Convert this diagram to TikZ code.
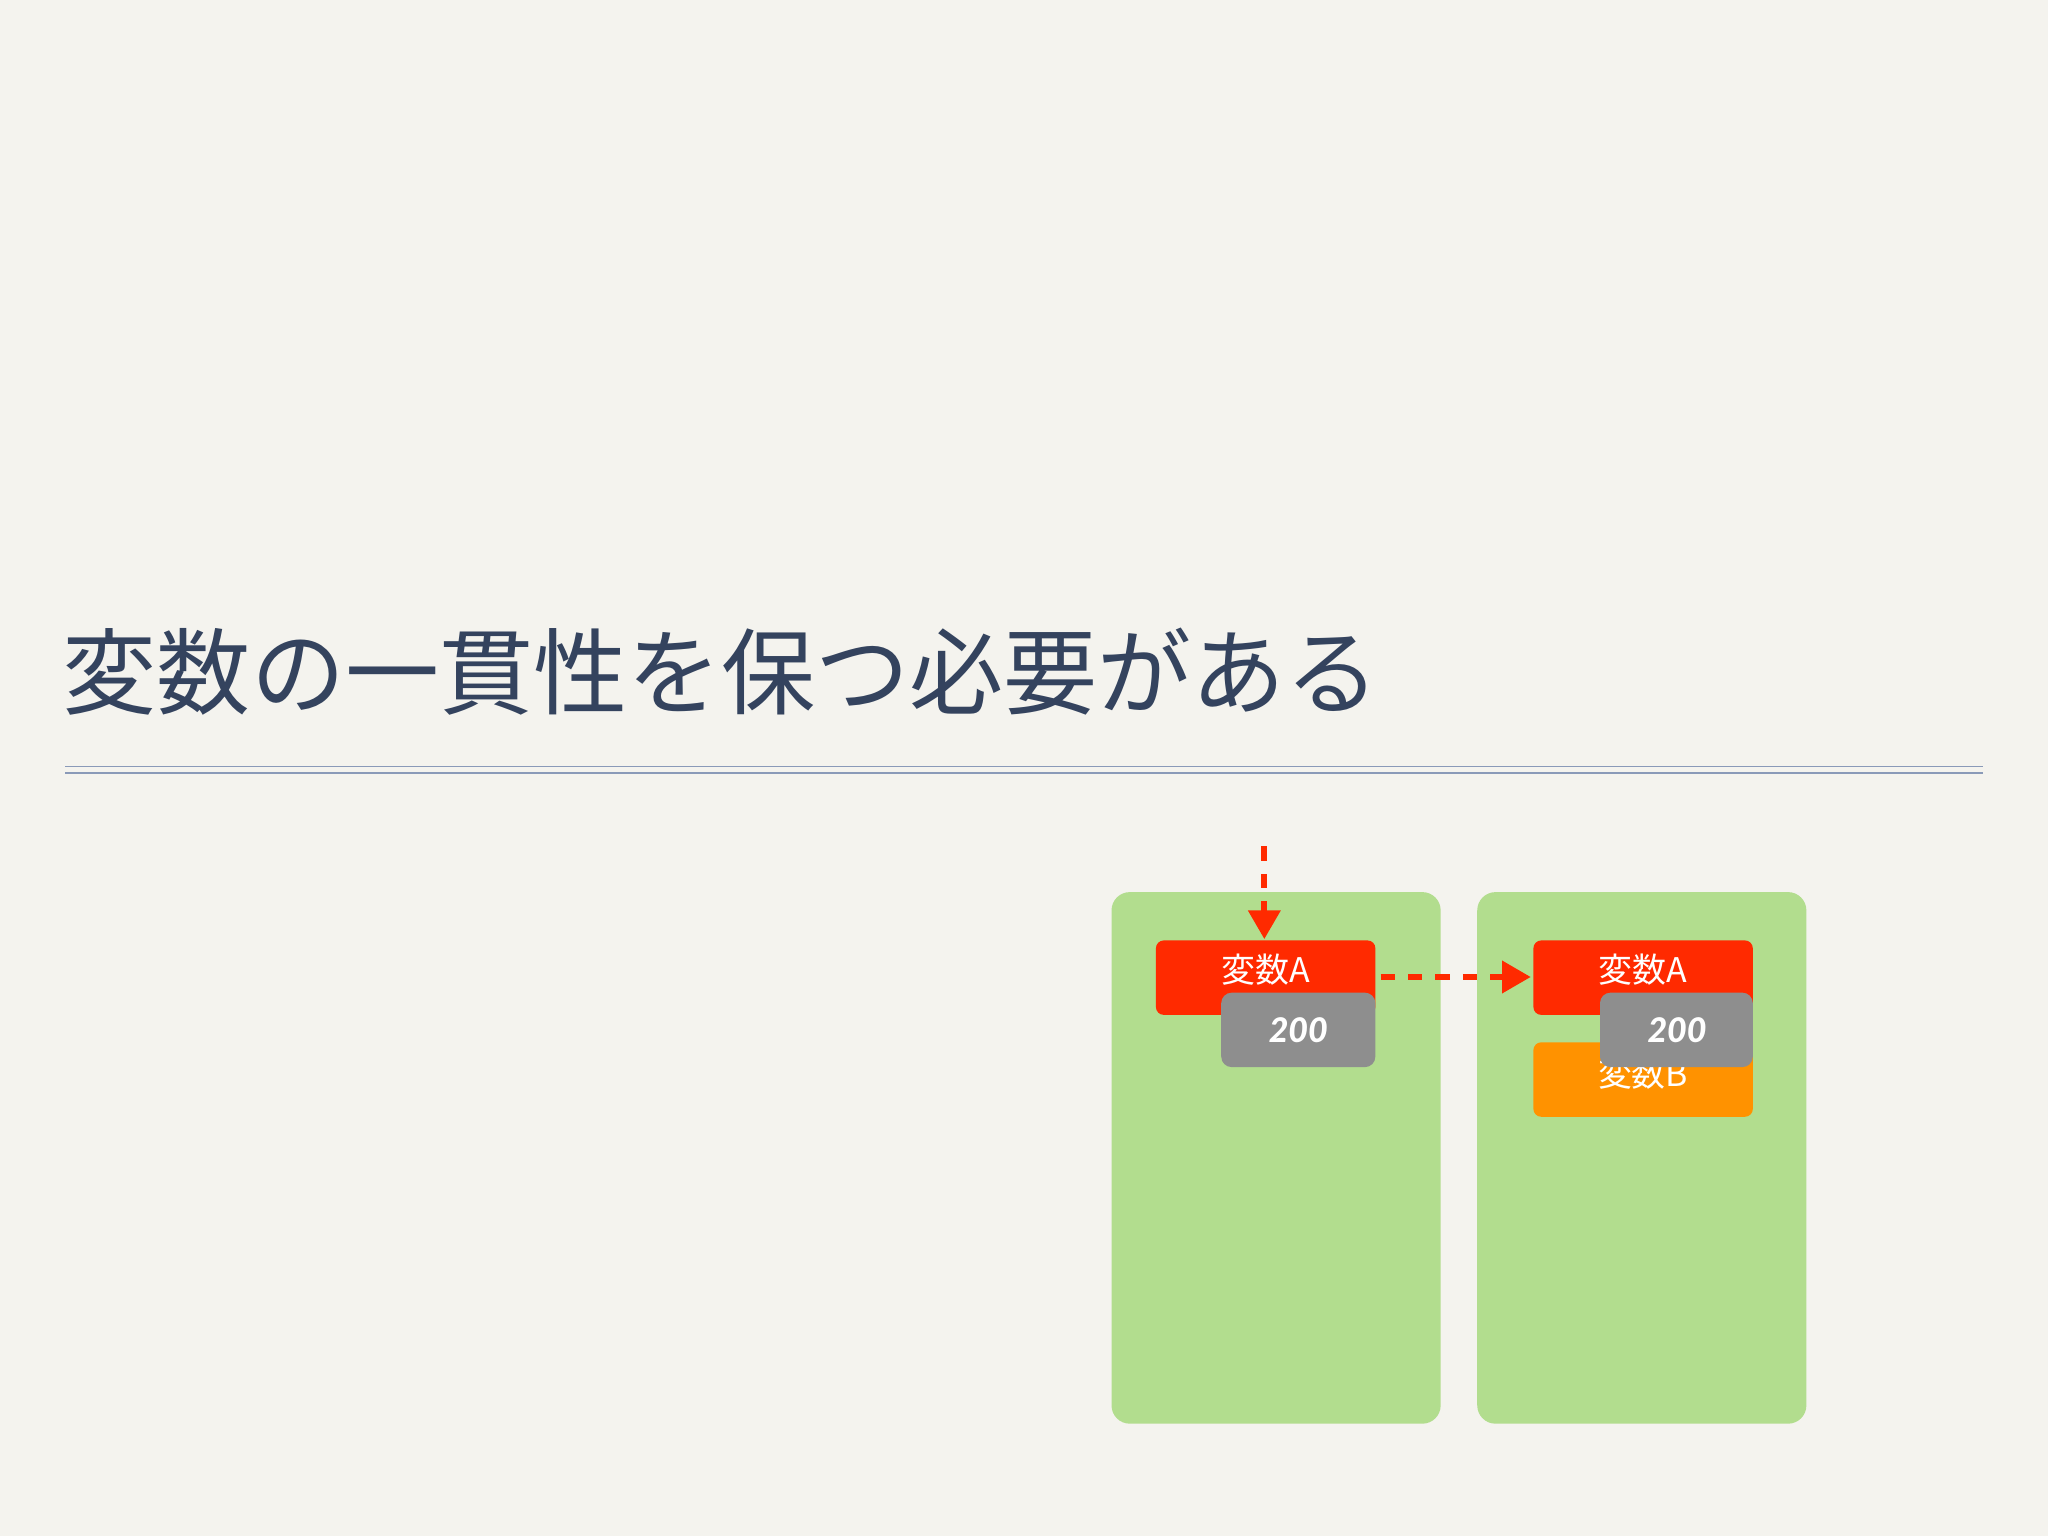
\documentclass[tikz,border=0pt]{standalone}
\usepackage{fontspec}
\newfontfamily\cjk{Noto Sans CJK JP}
\newfontfamily\valfont{Lato Black}
\usetikzlibrary{arrows.meta}
\definecolor{bg}{HTML}{F4F3EE}
\definecolor{ttl}{HTML}{34435E}
\definecolor{rule}{HTML}{8A9AB8}
\definecolor{grn}{HTML}{B2DD8E}
\definecolor{rd}{HTML}{FF2A00}
\definecolor{org}{HTML}{FF9200}
\definecolor{gry}{HTML}{8E8E8E}
\tikzset{
 panel/.style={fill=grn,rounded corners=14pt},
 varbox/.style={fill=rd,rounded corners=6pt,text=white,font=\cjk\fontsize{26}{26}\selectfont},
 orbox/.style={fill=org,rounded corners=6pt,text=white,font=\cjk\fontsize{26}{26}\selectfont},
 valbox/.style={fill=gry,rounded corners=8pt,text=white,font=\valfont\itshape\fontsize{26}{26}\selectfont},
 flow/.style={draw=rd,line width=4.5pt,dash pattern=on 11pt off 10pt,-{Triangle[length=22pt,width=24pt]}}
}
\begin{document}
\begin{tikzpicture}[x=1pt,y=-1pt]
\fill[bg] (0,0) rectangle (1568,1176);
\useasboundingbox (0,0) rectangle (1568,1176);
\node[anchor=base west,text=ttl,font=\cjk\fontsize{72}{72}\selectfont,inner sep=0] (title) at (48,542) {変数の一貫性を保つ必要がある};
\draw[rule,line width=1.2pt] (50,587) -- (1518,587);
\draw[rule,line width=1.2pt] (50,592) -- (1518,592);
\fill[panel] (851,683) rectangle (1103,1090);
\fill[panel] (1131,683) rectangle (1383,1090);
\fill[varbox] (885,720) rectangle (1053,777);
\node[varbox,fill=none] (a1) at (969,742) {変数A};
\fill[valbox] (935,760) rectangle (1053,817);
\node[valbox,fill=none] (v1) at (994,789) {200};
\fill[varbox] (1174,720) rectangle (1342,777);
\node[varbox,fill=none] (a2) at (1258,742) {変数A};
\fill[orbox] (1174,798) rectangle (1342,855);
\node[orbox,fill=none] (b2) at (1258,822) {変数B};
\fill[valbox] (1225,760) rectangle (1342,817);
\node[valbox,fill=none] (v2) at (1284,789) {200};
\coordinate (top) at (968,648);
\coordinate (ain) at (968,719);
\coordinate (h1) at (1057,748);
\coordinate (h2) at (1172,748);
\draw[flow] (top) -- (ain);
\draw[flow] (h1) -- (h2);
\end{tikzpicture}
\end{document}
